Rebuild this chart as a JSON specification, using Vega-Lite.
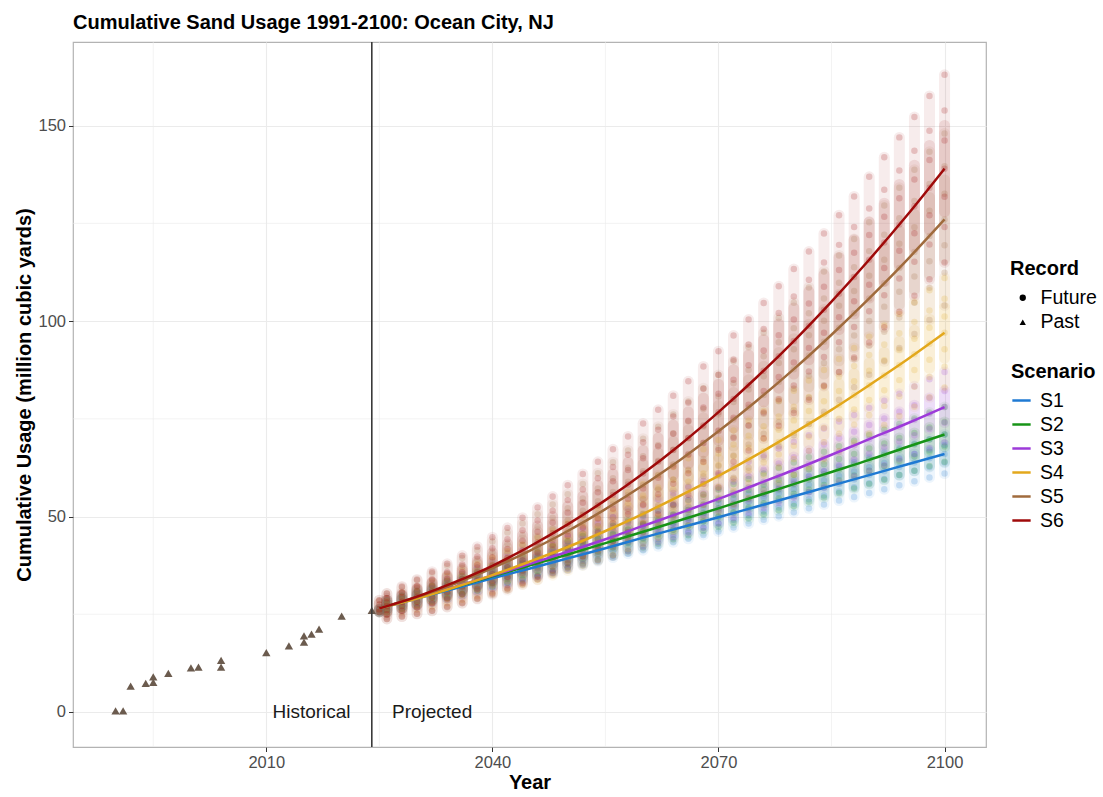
{
"$schema":"https://vega.github.io/schema/vega-lite/v6.json",
"width":913,"height":705,
"autosize":{"type":"none"},
"padding":{"left":73,"top":42,"right":117,"bottom":50},
"background":"white",
"title":{"text":"Cumulative Sand Usage 1991-2100: Ocean City, NJ","anchor":"start","frame":"group","font":"Liberation Sans","fontSize":20,"fontWeight":"bold","color":"black","offset":12,"baseline":"alphabetic","dy":20},
"config":{"font":"Liberation Sans","view":{"stroke":"#b3b3b3","strokeWidth":1.2},
 "axis":{"grid":true,"gridColor":"#ebebeb","gridWidth":1.1,"domain":false,"ticks":true,"tickColor":"#333333","tickSize":4.5,"tickWidth":1,"labelFontSize":16.5,"labelColor":"#4d4d4d","labelFont":"Liberation Sans","labelPadding":3,"titleFontSize":20,"titleFont":"Liberation Sans","titleFontWeight":"bold","titleColor":"black"},
 "axisX":{"titlePadding":1},"axisY":{"titlePadding":3}},
"datasets":{
"minorx":[{"Year":1995},{"Year":2025},{"Year":2055},{"Year":2085}],
"minory":[{"v":25},{"v":75},{"v":125}],
"past":[{"Year":1990,"v":0.3},{"Year":1991,"v":0.3},{"Year":1992,"v":6.6},{"Year":1994,"v":7.3},{"Year":1995,"v":7.6},{"Year":1995,"v":9.0},{"Year":1997,"v":9.9},{"Year":2000,"v":11.3},{"Year":2001,"v":11.5},{"Year":2004,"v":11.5},{"Year":2004,"v":13.2},{"Year":2010,"v":15.2},{"Year":2013,"v":16.9},{"Year":2015,"v":17.9},{"Year":2015,"v":19.5},{"Year":2016,"v":19.9},{"Year":2017,"v":21.2},{"Year":2020,"v":24.5},{"Year":2024,"v":26.0}],
"vline":[{"Year":2024}],
"labels":[{"Year":2016,"v":0,"label":"Historical"},{"Year":2032,"v":0,"label":"Projected"}],
"lines":[
{"Year":2025,"S1":26.5,"S2":26.5,"S3":26.5,"S4":26.5,"S5":26.5,"S6":26.5},
{"Year":2030,"S1":29.0,"S2":29.2,"S3":29.2,"S4":29.0,"S5":29.4,"S6":29.5},
{"Year":2035,"S1":31.6,"S2":31.9,"S3":32.0,"S4":31.9,"S5":32.8,"S6":33.2},
{"Year":2040,"S1":34.2,"S2":34.7,"S3":34.9,"S4":35.0,"S5":36.8,"S6":37.4},
{"Year":2045,"S1":36.7,"S2":37.5,"S3":37.9,"S4":38.5,"S5":41.3,"S6":42.4},
{"Year":2050,"S1":39.3,"S2":40.3,"S3":41.0,"S4":42.2,"S5":46.3,"S6":48.0},
{"Year":2055,"S1":41.9,"S2":43.2,"S3":44.2,"S4":46.3,"S5":51.9,"S6":54.2},
{"Year":2060,"S1":44.6,"S2":46.1,"S3":47.6,"S4":50.7,"S5":58.0,"S6":61.0},
{"Year":2065,"S1":47.2,"S2":49.1,"S3":51.0,"S4":55.4,"S5":64.6,"S6":68.5},
{"Year":2070,"S1":49.8,"S2":52.1,"S3":54.5,"S4":60.4,"S5":71.8,"S6":76.7},
{"Year":2075,"S1":52.5,"S2":55.2,"S3":58.2,"S4":65.7,"S5":79.5,"S6":85.5},
{"Year":2080,"S1":55.2,"S2":58.3,"S3":61.9,"S4":71.4,"S5":87.7,"S6":94.9},
{"Year":2085,"S1":57.9,"S2":61.4,"S3":65.8,"S4":77.3,"S5":96.5,"S6":105.0},
{"Year":2090,"S1":60.6,"S2":64.5,"S3":69.8,"S4":83.6,"S5":105.8,"S6":115.7},
{"Year":2095,"S1":63.3,"S2":67.8,"S3":73.8,"S4":90.1,"S5":115.6,"S6":127.0},
{"Year":2100,"S1":66.0,"S2":71.0,"S3":78.0,"S4":97.0,"S5":126.0,"S6":139.0}],
"cloud":[
{"Year":2025,"c1":[25.6,26.3],"c2":[25.6,26.3],"c3":[25.6,26.3],"c4":[25.6,26.3],"c5":[25.6,26.3,27.5,28.6],"c6":[25.6,26.3,27.5,28.6]},
{"Year":2026,"c1":[25.5,26.3,27.0,27.7,28.6],"c2":[25.5,26.3,27.0,27.7,28.6],"c3":[24.9,26.1,27.0,28.0,29.1],"c4":[24.8,25.6,26.3,27.0,27.6,28.3,29.1],"c5":[23.8,25.0,26.1,27.0,28.0,29.1,30.3],"c6":[23.8,25.0,26.1,27.1,28.0,29.1,30.3]},
{"Year":2028,"c1":[26.4,27.3,28.0,28.8,29.7],"c2":[26.4,27.3,28.1,28.9,29.8],"c3":[25.8,27.1,28.1,29.1,30.4],"c4":[25.5,26.4,27.2,28.0,28.7,29.5,30.5],"c5":[24.4,25.9,27.1,28.2,29.3,30.5,31.9],"c6":[24.4,25.9,27.1,28.2,29.4,30.6,32.1]},
{"Year":2030,"c1":[27.3,28.3,29.0,29.8,30.8],"c2":[27.3,28.4,29.2,30.0,31.1],"c3":[26.7,28.1,29.2,30.3,31.7],"c4":[26.2,27.3,28.2,29.0,29.9,30.8,31.8],"c5":[25.1,26.8,28.1,29.4,30.7,32.1,33.7],"c6":[25.1,26.8,28.2,29.5,30.8,32.2,33.9]},
{"Year":2032,"c1":[28.2,29.2,30.1,30.9,31.9],"c2":[28.3,29.4,30.3,31.2,32.3],"c3":[27.7,29.1,30.3,31.5,33.0],"c4":[27.0,28.2,29.2,30.1,31.1,32.1,33.2],"c5":[25.9,27.8,29.3,30.7,32.1,33.7,35.5],"c6":[25.9,27.8,29.4,30.9,32.4,34.0,35.9]},
{"Year":2034,"c1":[29.2,30.2,31.1,31.9,33.0],"c2":[29.2,30.4,31.4,32.3,33.5],"c3":[28.6,30.1,31.4,32.7,34.3],"c4":[27.8,29.1,30.2,31.3,32.3,33.4,34.7],"c5":[26.8,28.8,30.5,32.1,33.7,35.4,37.4],"c6":[26.9,29.0,30.7,32.4,34.0,35.8,37.9]},
{"Year":2036,"c1":[30.1,31.2,32.1,33.0,34.1],"c2":[30.2,31.4,32.5,33.5,34.8],"c3":[29.5,31.2,32.6,33.9,35.6],"c4":[28.7,30.1,31.3,32.5,33.6,34.8,36.2],"c5":[27.8,30.0,31.8,33.6,35.3,37.2,39.4],"c6":[27.9,30.2,32.1,34.0,35.8,37.7,40.0]},
{"Year":2038,"c1":[31.0,32.2,33.1,34.1,35.2],"c2":[31.1,32.5,33.6,34.7,36.0],"c3":[30.5,32.3,33.7,35.2,36.9],"c4":[29.6,31.2,32.5,33.7,34.9,36.2,37.8],"c5":[28.9,31.3,33.3,35.2,37.0,39.1,41.4],"c6":[29.0,31.5,33.7,35.7,37.6,39.8,42.3]},
{"Year":2040,"c1":[32.0,33.2,34.2,35.2,36.4],"c2":[32.1,33.5,34.7,35.9,37.3],"c3":[31.5,33.4,34.9,36.4,38.3],"c4":[30.6,32.3,33.7,35.0,36.3,37.7,39.4],"c5":[30.0,32.6,34.8,36.8,38.8,41.0,43.6],"c6":[30.3,33.0,35.3,37.5,39.6,41.9,44.7]},
{"Year":2042,"c1":[32.9,34.2,35.2,36.2,37.5],"c2":[33.1,34.6,35.8,37.0,38.6],"c3":[32.5,34.5,36.1,37.7,39.7],"c4":[31.6,33.4,34.9,36.4,37.8,39.3,41.1],"c5":[31.2,34.0,36.4,38.5,40.7,43.1,45.9],"c6":[31.6,34.5,37.0,39.4,41.7,44.2,47.1]},
{"Year":2044,"c1":[33.8,35.1,36.2,37.3,38.6],"c2":[34.0,35.6,36.9,38.2,39.8],"c3":[33.5,35.6,37.3,39.0,41.1],"c4":[32.7,34.6,36.2,37.7,39.3,40.9,42.8],"c5":[32.6,35.5,38.0,40.4,42.7,45.2,48.2],"c6":[33.0,36.2,38.8,41.3,43.8,46.5,49.7]},
{"Year":2046,"c1":[34.8,36.1,37.3,38.4,39.7],"c2":[35.0,36.7,38.1,39.4,41.1],"c3":[34.6,36.7,38.5,40.3,42.5],"c4":[33.8,35.9,37.6,39.2,40.8,42.5,44.5],"c5":[33.9,37.1,39.8,42.3,44.8,47.4,50.6],"c6":[34.6,37.9,40.8,43.4,46.1,49.0,52.3]},
{"Year":2048,"c1":[35.7,37.1,38.3,39.5,40.9],"c2":[36.0,37.8,39.2,40.6,42.4],"c3":[35.6,37.9,39.8,41.6,43.9],"c4":[35.0,37.2,39.0,40.7,42.4,44.2,46.4],"c5":[35.4,38.8,41.6,44.3,46.9,49.7,53.1],"c6":[36.2,39.8,42.8,45.7,48.5,51.5,55.1]},
{"Year":2050,"c1":[36.7,38.1,39.3,40.5,42.0],"c2":[37.0,38.8,40.3,41.8,43.7],"c3":[36.7,39.1,41.0,43.0,45.4],"c4":[36.2,38.5,40.4,42.2,44.0,45.9,48.2],"c5":[37.0,40.6,43.5,46.3,49.1,52.1,55.7],"c6":[38.0,41.8,45.0,48.0,51.0,54.2,58.0]},
{"Year":2052,"c1":[37.6,39.1,40.4,41.6,43.1],"c2":[38.0,39.9,41.5,43.1,45.0],"c3":[37.8,40.3,42.3,44.3,46.8],"c4":[37.5,39.9,41.9,43.8,45.7,47.7,50.1],"c5":[38.7,42.4,45.6,48.5,51.5,54.6,58.3],"c6":[39.8,43.8,47.2,50.4,53.5,56.9,60.9]},
{"Year":2054,"c1":[38.6,40.1,41.4,42.7,44.3],"c2":[39.0,41.0,42.6,44.3,46.3],"c3":[38.9,41.5,43.6,45.7,48.3],"c4":[38.8,41.3,43.5,45.5,47.5,49.6,52.1],"c5":[40.4,44.3,47.6,50.7,53.9,57.2,61.1],"c6":[41.8,46.0,49.5,52.9,56.2,59.8,64.0]},
{"Year":2056,"c1":[39.5,41.1,42.5,43.8,45.4],"c2":[40.0,42.1,43.8,45.5,47.6],"c3":[40.0,42.7,44.9,47.1,49.8],"c4":[40.2,42.8,45.1,47.2,49.2,51.5,54.1],"c5":[42.2,46.4,49.8,53.1,56.3,59.8,63.9],"c6":[43.8,48.3,52.0,55.5,59.0,62.7,67.2]},
{"Year":2058,"c1":[40.5,42.1,43.5,44.9,46.6],"c2":[41.1,43.2,45.0,46.7,48.9],"c3":[41.2,43.9,46.2,48.5,51.3],"c4":[41.6,44.4,46.7,48.9,51.1,53.4,56.2],"c5":[44.1,48.5,52.1,55.5,58.9,62.5,66.9],"c6":[46.0,50.6,54.5,58.2,61.9,65.8,70.5]},
{"Year":2060,"c1":[41.4,43.2,44.6,46.0,47.7],"c2":[42.1,44.3,46.2,48.0,50.2],"c3":[42.3,45.2,47.6,49.9,52.8],"c4":[43.1,46.0,48.4,50.7,53.0,55.4,58.3],"c5":[46.1,50.6,54.4,58.0,61.6,65.4,69.9],"c6":[48.2,53.1,57.2,61.0,64.9,69.0,73.8]},
{"Year":2062,"c1":[42.4,44.2,45.6,47.1,48.8],"c2":[43.1,45.4,47.3,49.2,51.5],"c3":[43.5,46.5,48.9,51.4,54.4],"c4":[44.6,47.6,50.2,52.5,54.9,57.4,60.5],"c5":[48.2,52.9,56.9,60.6,64.3,68.3,73.0],"c6":[50.6,55.7,59.9,64.0,68.0,72.2,77.3]},
{"Year":2064,"c1":[43.4,45.2,46.7,48.2,50.0],"c2":[44.2,46.6,48.5,50.5,52.9],"c3":[44.7,47.8,50.3,52.9,56.0],"c4":[46.2,49.3,52.0,54.4,56.9,59.5,62.7],"c5":[50.4,55.3,59.4,63.3,67.1,71.3,76.1],"c6":[53.1,58.4,62.8,67.0,71.2,75.6,80.9]},
{"Year":2066,"c1":[44.3,46.2,47.7,49.3,51.1],"c2":[45.2,47.7,49.7,51.7,54.2],"c3":[45.9,49.1,51.7,54.3,57.5],"c4":[47.8,51.1,53.8,56.4,58.9,61.7,64.9],"c5":[52.6,57.7,62.0,66.0,70.0,74.3,79.4],"c6":[55.6,61.1,65.8,70.1,74.5,79.1,84.6]},
{"Year":2068,"c1":[45.3,47.2,48.8,50.4,52.3],"c2":[46.3,48.8,50.9,53.0,55.6],"c3":[47.1,50.4,53.1,55.8,59.1],"c4":[49.5,52.9,55.7,58.4,61.0,63.9,67.2],"c5":[55.0,60.3,64.7,68.9,73.0,77.5,82.8],"c6":[58.3,64.0,68.8,73.3,77.9,82.7,88.4]},
{"Year":2070,"c1":[46.2,48.2,49.8,51.5,53.4],"c2":[47.3,50.0,52.1,54.3,56.9],"c3":[48.3,51.8,54.5,57.3,60.7],"c4":[51.2,54.7,57.6,60.4,63.2,66.1,69.6],"c5":[57.4,62.9,67.5,71.8,76.1,80.7,86.2],"c6":[61.1,67.0,72.0,76.7,81.4,86.3,92.3]},
{"Year":2072,"c1":[47.2,49.2,50.9,52.6,54.6],"c2":[48.4,51.1,53.3,55.6,58.3],"c3":[49.6,53.1,56.0,58.9,62.4],"c4":[53.0,56.6,59.6,62.5,65.4,68.4,72.0],"c5":[59.9,65.6,70.4,74.8,79.3,84.1,89.7],"c6":[64.0,70.1,75.3,80.1,85.0,90.1,96.3]},
{"Year":2074,"c1":[48.2,50.3,52.0,53.7,55.8],"c2":[49.5,52.3,54.6,56.8,59.6],"c3":[50.9,54.5,57.5,60.4,64.0],"c4":[54.8,58.5,61.7,64.6,67.6,70.7,74.5],"c5":[62.5,68.4,73.3,77.9,82.5,87.5,93.3],"c6":[66.9,73.3,78.6,83.6,88.7,94.0,100.4]},
{"Year":2076,"c1":[49.2,51.3,53.0,54.8,56.9],"c2":[50.5,53.4,55.8,58.1,61.0],"c3":[52.2,55.9,58.9,62.0,65.7],"c4":[56.7,60.5,63.8,66.8,69.9,73.1,77.0],"c5":[65.2,71.2,76.3,81.1,85.9,91.0,97.0],"c6":[70.0,76.6,82.1,87.3,92.5,98.0,104.6]},
{"Year":2078,"c1":[50.1,52.3,54.1,55.9,58.1],"c2":[51.6,54.6,57.0,59.4,62.4],"c3":[53.5,57.3,60.4,63.6,67.4],"c4":[58.6,62.6,65.9,69.1,72.2,75.6,79.6],"c5":[68.0,74.2,79.5,84.4,89.3,94.6,100.8],"c6":[73.2,80.0,85.7,91.0,96.4,102.1,108.9]},
{"Year":2080,"c1":[51.1,53.3,55.2,57.0,59.2],"c2":[52.7,55.8,58.3,60.7,63.8],"c3":[54.8,58.7,61.9,65.2,69.1],"c4":[60.6,64.7,68.1,71.4,74.6,78.1,82.2],"c5":[70.8,77.2,82.7,87.7,92.8,98.2,104.7],"c6":[76.5,83.5,89.4,94.9,100.4,106.3,113.3]},
{"Year":2082,"c1":[52.1,54.4,56.3,58.1,60.4],"c2":[53.8,56.9,59.5,62.1,65.2],"c3":[56.2,60.2,63.5,66.8,70.8],"c4":[62.6,66.8,70.4,73.7,77.0,80.6,84.8],"c5":[73.7,80.4,86.0,91.2,96.4,102.0,108.6],"c6":[79.9,87.1,93.1,98.8,104.5,110.6,117.8]},
{"Year":2084,"c1":[53.1,55.4,57.3,59.2,61.6],"c2":[54.9,58.1,60.8,63.4,66.6],"c3":[57.5,61.6,65.0,68.4,72.5],"c4":[64.7,69.0,72.7,76.1,79.5,83.2,87.5],"c5":[76.8,83.6,89.3,94.7,100.1,105.8,112.7],"c6":[83.4,90.8,97.0,102.9,108.8,115.0,122.4]},
{"Year":2086,"c1":[54.1,56.4,58.4,60.4,62.8],"c2":[56.0,59.3,62.0,64.7,68.0],"c3":[58.9,63.1,66.6,70.0,74.3],"c4":[66.8,71.2,75.0,78.5,82.1,85.8,90.3],"c5":[79.9,86.9,92.8,98.3,103.9,109.8,116.8],"c6":[87.0,94.6,101.0,107.0,113.1,119.5,127.1]},
{"Year":2088,"c1":[55.0,57.5,59.5,61.5,63.9],"c2":[57.2,60.5,63.3,66.0,69.4],"c3":[60.3,64.6,68.2,71.7,76.0],"c4":[68.9,73.5,77.4,81.0,84.6,88.5,93.1],"c5":[83.1,90.3,96.3,102.0,107.7,113.8,121.0],"c6":[90.7,98.5,105.1,111.3,117.5,124.1,131.9]},
{"Year":2090,"c1":[56.0,58.5,60.6,62.6,65.1],"c2":[58.3,61.7,64.6,67.4,70.8],"c3":[61.7,66.1,69.8,73.4,77.8],"c4":[71.2,75.9,79.8,83.6,87.3,91.3,96.0],"c5":[86.3,93.7,100.0,105.8,111.6,117.9,125.3],"c6":[94.5,102.5,109.3,115.7,122.0,128.8,136.9]},
{"Year":2092,"c1":[57.0,59.6,61.6,63.7,66.3],"c2":[59.4,62.9,65.8,68.7,72.2],"c3":[63.1,67.7,71.4,75.1,79.6],"c4":[73.4,78.3,82.3,86.1,90.0,94.0,98.9],"c5":[89.7,97.3,103.7,109.7,115.7,122.1,129.6],"c6":[98.4,106.6,113.6,120.1,126.7,133.6,141.9]},
{"Year":2094,"c1":[58.0,60.6,62.7,64.9,67.5],"c2":[60.6,64.2,67.1,70.1,73.7],"c3":[64.6,69.2,73.0,76.8,81.4],"c4":[75.7,80.7,84.9,88.8,92.7,96.9,101.8],"c5":[93.1,100.9,107.5,113.6,119.8,126.3,134.1],"c6":[102.4,110.9,118.0,124.7,131.4,138.5,147.0]},
{"Year":2096,"c1":[59.0,61.7,63.8,66.0,68.6],"c2":[61.7,65.4,68.4,71.4,75.1],"c3":[66.0,70.8,74.7,78.5,83.3],"c4":[78.1,83.2,87.5,91.5,95.5,99.8,104.8],"c5":[96.7,104.7,111.4,117.7,124.0,130.7,138.7],"c6":[106.5,115.2,122.5,129.4,136.2,143.6,152.2]},
{"Year":2098,"c1":[60.0,62.7,64.9,67.1,69.8],"c2":[62.9,66.6,69.7,72.8,76.6],"c3":[67.5,72.4,76.3,80.3,85.1],"c4":[80.5,85.7,90.1,94.2,98.3,102.7,107.9],"c5":[100.3,108.5,115.3,121.8,128.2,135.1,143.3],"c6":[110.7,119.6,127.1,134.1,141.2,148.7,157.6]},
{"Year":2100,"c1":[61.0,63.8,66.0,68.3,71.0],"c2":[64.0,67.9,71.0,74.2,78.0],"c3":[69.0,74.0,78.0,82.1,87.0],"c4":[83.0,88.3,92.8,97.0,101.2,105.7,111.0],"c5":[104.0,112.4,119.4,126.0,132.6,139.6,148.0],"c6":[115.0,124.1,131.8,139.0,146.2,153.9,163.0]}]
},
"layer":[
{"data":{"name":"minorx"},"mark":{"type":"rule","stroke":"#ebebeb","strokeWidth":0.6},
 "encoding":{"x":{"field":"Year","type":"quantitative","title":"Year","scale":{"domain":[1984.35,2105.5],"nice":false,"zero":false}}}},
{"data":{"name":"minory"},"mark":{"type":"rule","stroke":"#ebebeb","strokeWidth":0.6},
 "encoding":{"y":{"field":"v","type":"quantitative","title":"Cumulative Usage (million cubic yards)","scale":{"domain":[-8.96,171.4],"nice":false,"zero":false}}}},
{"data":{"name":"cloud"},"transform":[{"fold":["c1","c2","c3","c4","c5","c6"],"as":["G","arr"]},{"flatten":["arr"]}],
 "mark":{"type":"rule","strokeWidth":11,"strokeCap":"round","opacity":0.08},
 "encoding":{
  "x":{"field":"Year","type":"quantitative","title":"Year","scale":{"domain":[1984.35,2105.5],"nice":false,"zero":false}},
  "y":{"field":"arr","aggregate":"min","type":"quantitative","title":"Cumulative Usage (million cubic yards)","scale":{"domain":[-8.96,171.4],"nice":false,"zero":false}},
  "y2":{"field":"arr","aggregate":"max"},
  "stroke":{"field":"G","type":"nominal","scale":{"domain":["c1","c2","c3","c4","c5","c6"],"range":["#1f7ad3","#179417","#9d3ad9","#e3a81c","#a06b3d","#9f0a0a"]},"legend":null}
 }},
{"data":{"name":"cloud"},"transform":[{"fold":["c1","c2","c3","c4","c5","c6"],"as":["G","arr"]},{"flatten":["arr"]}],
 "mark":{"type":"rule","strokeWidth":11,"strokeCap":"round","opacity":0.1},
 "encoding":{
  "x":{"field":"Year","type":"quantitative","title":"Year","scale":{"domain":[1984.35,2105.5],"nice":false,"zero":false}},
  "y":{"field":"arr","aggregate":"q1","type":"quantitative","title":"Cumulative Usage (million cubic yards)","scale":{"domain":[-8.96,171.4],"nice":false,"zero":false}},
  "y2":{"field":"arr","aggregate":"q3"},
  "stroke":{"field":"G","type":"nominal","scale":{"domain":["c1","c2","c3","c4","c5","c6"],"range":["#1f7ad3","#179417","#9d3ad9","#e3a81c","#a06b3d","#9f0a0a"]},"legend":null}
 }},
{"data":{"name":"cloud"},"transform":[{"fold":["c1","c2","c3","c4","c5","c6"],"as":["G","arr"]},{"flatten":["arr"]}],
 "mark":{"type":"point","filled":true,"size":42,"fillOpacity":0.2,"strokeWidth":0},
 "encoding":{
  "x":{"field":"Year","type":"quantitative","title":"Year","scale":{"domain":[1984.35,2105.5],"nice":false,"zero":false},
   "axis":{"values":[2010,2040,2070,2100],"format":"d"}},
  "y":{"field":"arr","type":"quantitative","title":"Cumulative Usage (million cubic yards)","scale":{"domain":[-8.96,171.4],"nice":false,"zero":false},
   "axis":{"values":[0,50,100,150]}},
  "fill":{"field":"G","type":"nominal","scale":{"domain":["c1","c2","c3","c4","c5","c6"],"range":["#1f7ad3","#179417","#9d3ad9","#e3a81c","#a06b3d","#9f0a0a"]},"legend":null},
  "shape":{"datum":"Future","type":"nominal","scale":{"domain":["Future","Past"],"range":["circle","triangle-up"]},
   "legend":{"title":"Record","orient":"none","legendX":937,"legendY":217,"titleFontSize":20,"titleFont":"Liberation Sans","titleFontWeight":"bold","titleColor":"black","titlePadding":9,"labelFontSize":19.5,"labelFont":"Liberation Sans","labelColor":"black","symbolSize":40,"symbolOpacity":1,"symbolFillColor":"black","symbolStrokeWidth":0,"symbolOffset":3,"labelOffset":8,"rowPadding":3.5}}
 }},
{"data":{"name":"past"},
 "mark":{"type":"point","filled":true,"size":70,"fill":"#6b5b4e","opacity":1,"strokeWidth":0},
 "encoding":{
  "x":{"field":"Year","type":"quantitative","title":"Year","scale":{"domain":[1984.35,2105.5],"nice":false,"zero":false}},
  "y":{"field":"v","type":"quantitative","title":"Cumulative Usage (million cubic yards)","scale":{"domain":[-8.96,171.4],"nice":false,"zero":false}},
  "shape":{"datum":"Past","type":"nominal","legend":null}
 }},
{"data":{"name":"vline"},"mark":{"type":"rule","stroke":"#3a3a3a","strokeWidth":1.6},
 "encoding":{"x":{"field":"Year","type":"quantitative","title":"Year","scale":{"domain":[1984.35,2105.5],"nice":false,"zero":false}}}},
{"data":{"name":"lines"},"transform":[{"fold":["S1","S2","S3","S4","S5","S6"],"as":["Scenario","v"]}],
 "mark":{"type":"line","strokeWidth":2.5,"interpolate":"monotone"},
 "encoding":{
  "x":{"field":"Year","type":"quantitative","title":"Year","scale":{"domain":[1984.35,2105.5],"nice":false,"zero":false}},
  "y":{"field":"v","type":"quantitative","title":"Cumulative Usage (million cubic yards)","scale":{"domain":[-8.96,171.4],"nice":false,"zero":false}},
  "color":{"field":"Scenario","type":"nominal","scale":{"domain":["S1","S2","S3","S4","S5","S6"],"range":["#1f7ad3","#179417","#9d3ad9","#e3a81c","#a06b3d","#9f0a0a"]},
   "legend":{"title":"Scenario","orient":"none","legendX":938,"legendY":320,"titleFontSize":20,"titleFont":"Liberation Sans","titleFontWeight":"bold","titleColor":"black","titlePadding":8,"labelFontSize":19.5,"labelFont":"Liberation Sans","labelColor":"black","symbolType":"stroke","symbolSize":335,"symbolStrokeWidth":2.5,"symbolOpacity":1,"labelOffset":8,"rowPadding":4}}
 }},
{"data":{"name":"labels"},"mark":{"type":"text","fontSize":19,"font":"Liberation Sans","color":"#1a1a1a","baseline":"middle","align":"center"},
 "encoding":{
  "x":{"field":"Year","type":"quantitative","title":"Year","scale":{"domain":[1984.35,2105.5],"nice":false,"zero":false}},
  "y":{"field":"v","type":"quantitative","title":"Cumulative Usage (million cubic yards)","scale":{"domain":[-8.96,171.4],"nice":false,"zero":false}},
  "text":{"field":"label"}
 }}
]
}
